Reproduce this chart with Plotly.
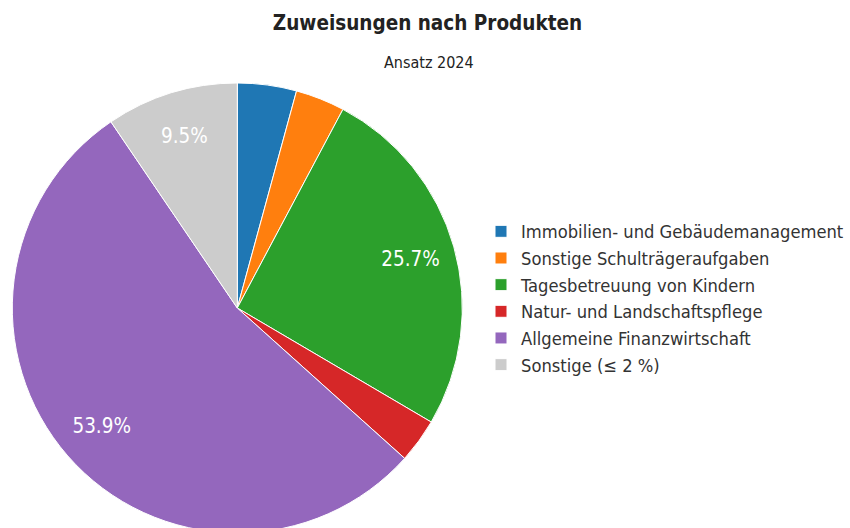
import plotly.graph_objects as go

# ---- data ----
categories = [
    "Immobilien- und Gebäudemanagement",
    "Sonstige Schulträgeraufgaben",
    "Tagesbetreuung von Kindern",
    "Natur- und Landschaftspflege",
    "Allgemeine Finanzwirtschaft",
    "Sonstige (≤ 2 %)",
]
shares = [4.24, 3.54, 25.68, 3.19, 53.86, 9.49]
show_label = [False, False, True, False, True, True]
colors = ["#1f77b4", "#ff7f0e", "#2ca02c", "#d62728", "#9467bd", "#cccccc"]

title_text = "Zuweisungen nach Produkten"
subtitle_text = "Ansatz 2024"

# ---- layout geometry (pixels) ----
W, H = 850, 540
TOP, BOTTOM = 83, 533
FONT = "DejaVu Sans Condensed, DejaVu Sans, sans-serif"

def py(ypx):
    return (BOTTOM - ypx) / (BOTTOM - TOP)

dom_x = [12 / W, 462.6 / W]

fig = go.Figure()

fig.add_trace(go.Pie(
    labels=categories,
    values=shares,
    sort=False,
    direction="clockwise",
    rotation=0,
    marker=dict(colors=colors, line=dict(color="white", width=1)),
    textinfo="none",
    hoverinfo="label+percent",
    domain=dict(x=dom_x, y=[0, 1]),
    showlegend=True,
))

# transparent ring used only to place the percentage labels
fig.add_trace(go.Pie(
    labels=categories,
    values=shares,
    sort=False,
    direction="clockwise",
    rotation=0,
    hole=0.6,
    marker=dict(colors=["rgba(0,0,0,0)"] * len(categories), line=dict(width=0)),
    texttemplate=["%{percent:.1%}" if s else "" for s in show_label],
    textposition="inside",
    insidetextorientation="horizontal",
    insidetextfont=dict(family=FONT, size=20.5, color="white"),
    hoverinfo="skip",
    domain=dict(x=dom_x, y=[0, 1]),
    showlegend=False,
))

fig.update_layout(
    width=W,
    height=H,
    margin=dict(l=0, r=0, t=TOP, b=H - BOTTOM, pad=0, autoexpand=False),
    paper_bgcolor="white",
    plot_bgcolor="white",
    font=dict(family=FONT, color="#333333"),
    title=dict(
        text=title_text,
        x=427.5 / W, xanchor="center", xref="paper",
        y=1 - 22.5 / H, yanchor="middle", yref="container",
        font=dict(family=FONT, size=20.5, color="#222222", weight=700),
    ),
    annotations=[dict(
        text=subtitle_text,
        x=429 / W, xref="paper", xanchor="center",
        y=py(63), yref="paper", yanchor="middle",
        showarrow=False,
        font=dict(family=FONT, size=16, color="#222222"),
    )],
    legend=dict(
        x=481 / W, xanchor="left",
        y=py(298), yanchor="middle",
        font=dict(family=FONT, size=18.2, color="#333333"),
        bgcolor="rgba(0,0,0,0)",
    ),
)

fig.write_html(
    "out.html",
    config={"displayModeBar": False},
    post_script="document.body.style.margin='0';document.body.style.overflow='hidden';",
)
